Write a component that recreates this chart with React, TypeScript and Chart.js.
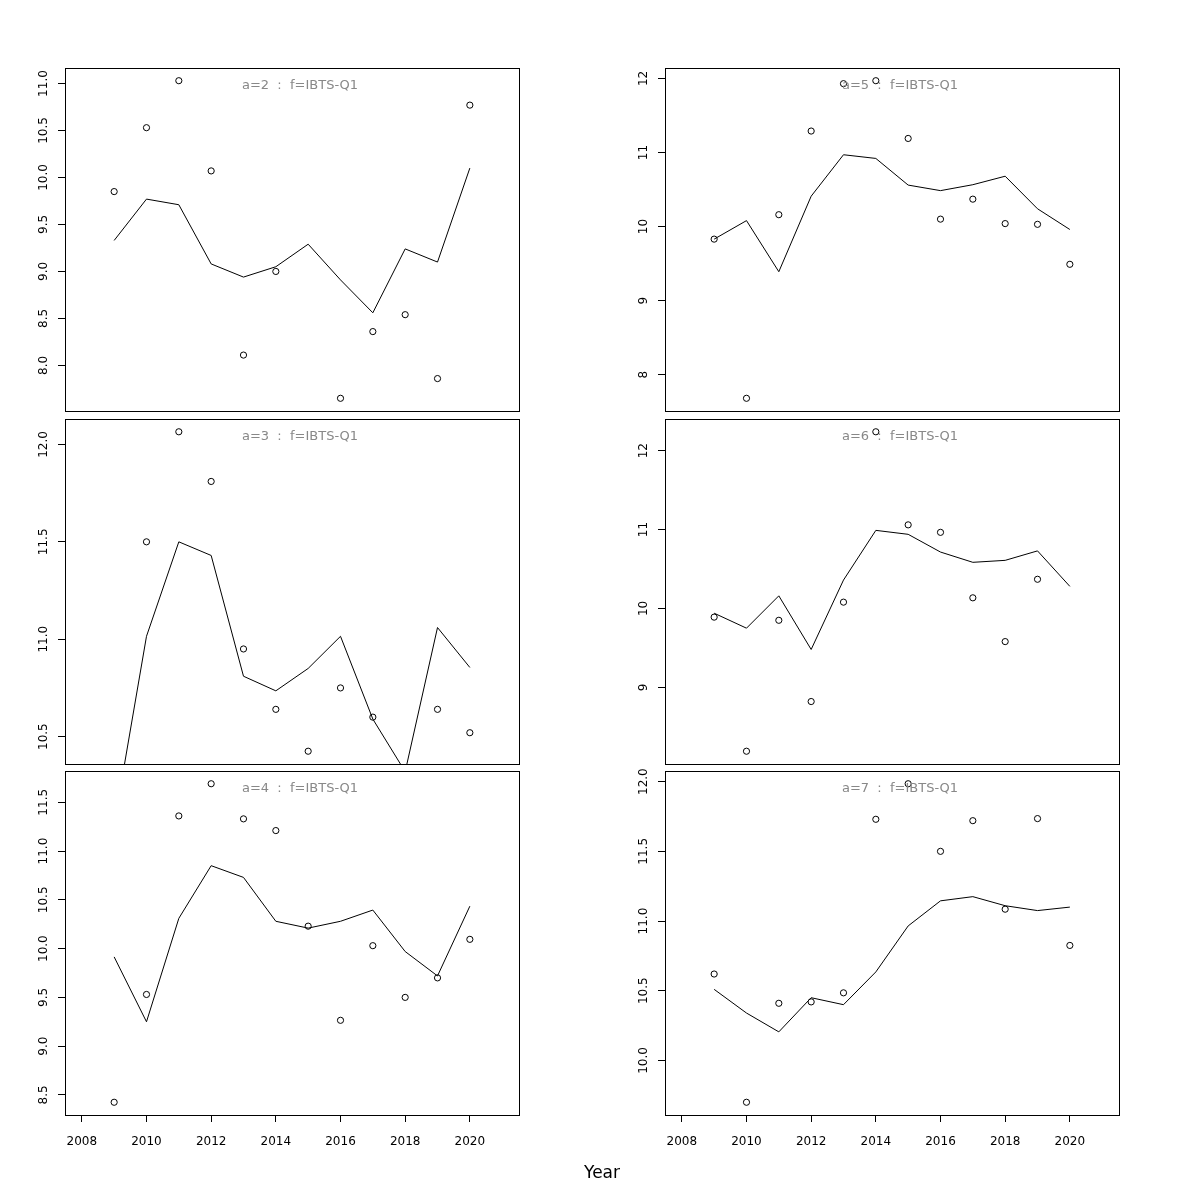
import React, { useEffect, useRef } from "react";
import { Chart, registerables } from "chart.js";

Chart.register(...registerables);

// ---------- data ----------
const years = [2009, 2010, 2011, 2012, 2013, 2014, 2015, 2016, 2017, 2018, 2019, 2020];
const xTickLabels = ["2008", "2010", "2012", "2014", "2016", "2018", "2020"];
const xLimits = [2008, 2021];

const obsA2 = [9.85, 10.53, 11.03, 10.07, 8.11, 9.0, null, 7.65, 8.36, 8.54, 7.86, 10.77];
const fitA2 = [9.33, 9.77, 9.71, 9.08, 8.94, 9.05, 9.29, 8.91, 8.56, 9.24, 9.1, 10.1];
const yTicksA2 = ["8.0", "8.5", "9.0", "9.5", "10.0", "10.5", "11.0"];

const obsA3 = [null, 11.5, 12.065, 11.81, 10.95, 10.64, 10.425, 10.75, 10.6, null, 10.64, 10.52];
const fitA3 = [10.05, 11.015, 11.5, 11.43, 10.81, 10.735, 10.85, 11.015, 10.59, 10.32, 11.06, 10.855];
const yTicksA3 = ["10.5", "11.0", "11.5", "12.0"];

const obsA4 = [8.425, 9.53, 11.36, 11.69, 11.33, 11.21, 10.23, 9.265, 10.03, 9.5, 9.7, 10.095];
const fitA4 = [9.915, 9.25, 10.31, 10.85, 10.73, 10.28, 10.21, 10.28, 10.395, 9.97, 9.72, 10.435];
const yTicksA4 = ["8.5", "9.0", "9.5", "10.0", "10.5", "11.0", "11.5"];

const obsA5 = [9.83, 7.68, 10.16, 11.29, 11.93, 11.97, 11.19, 10.1, 10.37, 10.04, 10.03, 9.49];
const fitA5 = [9.83, 10.08, 9.39, 10.41, 10.97, 10.92, 10.56, 10.485, 10.565, 10.68, 10.24, 9.96];
const yTicksA5 = ["8", "9", "10", "11", "12"];

const obsA6 = [9.89, 8.19, 9.85, 8.82, 10.08, 12.24, 11.06, 10.965, 10.135, 9.58, 10.37, null];
const fitA6 = [9.94, 9.75, 10.16, 9.48, 10.36, 10.99, 10.94, 10.715, 10.585, 10.61, 10.73, 10.28];
const yTicksA6 = ["9", "10", "11", "12"];

const obsA7 = [10.62, 9.7, 10.41, 10.42, 10.485, 11.73, 11.985, 11.5, 11.72, 11.085, 11.735, 10.825];
const fitA7 = [10.51, 10.34, 10.205, 10.45, 10.4, 10.635, 10.965, 11.145, 11.175, 11.11, 11.075, 11.1];
const yTicksA7 = ["10.0", "10.5", "11.0", "11.5", "12.0"];

const panelTitles = [
  "a=2  :  f=IBTS-Q1",
  "a=3  :  f=IBTS-Q1",
  "a=4  :  f=IBTS-Q1",
  "a=5  :  f=IBTS-Q1",
  "a=6  :  f=IBTS-Q1",
  "a=7  :  f=IBTS-Q1",
];
const xAxisTitle = "Year";

// ---------- layout / style ----------
const FONT = "'DejaVu Sans', 'Liberation Sans', sans-serif";

type Spec = {
  title: string;
  obs: (number | null)[];
  fit: number[];
  yTicks: string[];
  col: number;
  row: number;
};

const specs: Spec[] = [
  { title: panelTitles[0], obs: obsA2, fit: fitA2, yTicks: yTicksA2, col: 0, row: 0 },
  { title: panelTitles[1], obs: obsA3, fit: fitA3, yTicks: yTicksA3, col: 0, row: 1 },
  { title: panelTitles[2], obs: obsA4, fit: fitA4, yTicks: yTicksA4, col: 0, row: 2 },
  { title: panelTitles[3], obs: obsA5, fit: fitA5, yTicks: yTicksA5, col: 1, row: 0 },
  { title: panelTitles[4], obs: obsA6, fit: fitA6, yTicks: yTicksA6, col: 1, row: 1 },
  { title: panelTitles[5], obs: obsA7, fit: fitA7, yTicks: yTicksA7, col: 1, row: 2 },
];

const rowGeom = [
  { top: 0, height: 416, padTop: 68, padBottom: 4 },
  { top: 410, height: 360, padTop: 9, padBottom: 6 },
  { top: 766, height: 434, padTop: 5, padBottom: 0 },
];
const colGeom = [
  { left: 0, width: 600, axisWidth: 65, padRight: 81 },
  { left: 600, width: 600, axisWidth: 65, padRight: 81 },
];
const X_AXIS_HEIGHT = 85;

function extendRange(lo: number, hi: number): [number, number] {
  const d = (hi - lo) * 0.04;
  return [lo - d, hi + d];
}

function Panel({ spec }: { spec: Spec }) {
  const ref = useRef<HTMLCanvasElement | null>(null);
  const rg = rowGeom[spec.row];
  const cg = colGeom[spec.col];
  const isBottom = spec.row === 2;

  useEffect(() => {
    if (!ref.current) return;
    const obsVals = spec.obs.filter((v) => v !== null) as number[];
    const [ymin, ymax] = extendRange(Math.min(...obsVals), Math.max(...obsVals));
    const [xmin, xmax] = extendRange(xLimits[0], xLimits[1]);

    const fitData = years.map((x, i) => ({ x, y: spec.fit[i] }));
    const obsData = years
      .map((x, i) => ({ x, y: spec.obs[i] }))
      .filter((p) => p.y !== null);

    const deco = {
      id: "deco",
      afterDraw(chart: any) {
        const ctx = chart.ctx as CanvasRenderingContext2D;
        const ca = chart.chartArea;
        const ys = chart.scales.y;
        const xs = chart.scales.x;
        ctx.save();
        // box
        ctx.strokeStyle = "#000";
        ctx.lineWidth = 1;
        ctx.strokeRect(ca.left + 0.5, ca.top + 0.5, ca.right - ca.left, ca.bottom - ca.top);
        // y tick labels (rotated)
        ctx.fillStyle = "#000";
        ctx.font = `12px ${FONT}`;
        ctx.textAlign = "center";
        ctx.textBaseline = "alphabetic";
        for (const lab of spec.yTicks) {
          const py = ys.getPixelForValue(Number(lab));
          ctx.save();
          ctx.translate(ca.left - 18, py);
          ctx.rotate(-Math.PI / 2);
          ctx.fillText(lab, 0, 0);
          ctx.restore();
        }
        // x tick labels
        if (isBottom) {
          for (const lab of xTickLabels) {
            const px = xs.getPixelForValue(Number(lab));
            ctx.fillText(lab, px, ca.bottom + 30);
          }
        }
        // title
        ctx.fillStyle = "#888888";
        ctx.font = `13px ${FONT}`;
        ctx.fillText(spec.title, ca.left + 235, ca.top + 21);
        ctx.restore();
      },
    };

    const gridOpts = {
      drawOnChartArea: false,
      drawTicks: true,
      tickLength: 7,
      color: "#000",
      lineWidth: 1,
    };

    const chart = new Chart(ref.current, {
      type: "line",
      data: {
        datasets: [
          {
            data: fitData,
            borderColor: "#000",
            borderWidth: 1,
            pointRadius: 0,
            tension: 0,
            fill: false,
            clip: 0,
          } as any,
          {
            data: obsData,
            showLine: false,
            pointRadius: 3.1,
            pointBorderWidth: 1,
            pointBorderColor: "#000",
            pointBackgroundColor: "rgba(0,0,0,0)",
            borderColor: "#000",
            clip: 6,
          } as any,
        ],
      },
      options: {
        animation: false,
        responsive: false,
        devicePixelRatio: 1,
        events: [],
        layout: {
          padding: { left: 0, right: cg.padRight, top: rg.padTop, bottom: rg.padBottom },
        },
        plugins: {
          legend: { display: false },
          tooltip: { enabled: false },
          title: { display: false },
        },
        scales: {
          x: {
            type: "linear",
            min: xmin,
            max: xmax,
            display: isBottom,
            afterBuildTicks: (s: any) => {
              s.ticks = xTickLabels.map((l) => ({ value: Number(l) }));
            },
            afterFit: (s: any) => {
              s.height = isBottom ? X_AXIS_HEIGHT : 0;
            },
            grid: gridOpts,
            border: { display: false },
            ticks: { display: false },
          },
          y: {
            type: "linear",
            min: ymin,
            max: ymax,
            afterBuildTicks: (s: any) => {
              s.ticks = spec.yTicks.map((l) => ({ value: Number(l) }));
            },
            afterFit: (s: any) => {
              s.width = cg.axisWidth;
            },
            grid: gridOpts,
            border: { display: false },
            ticks: { display: false },
          },
        },
      } as any,
      plugins: [deco],
    });
    return () => chart.destroy();
  }, []);

  return (
    <canvas
      ref={ref}
      width={cg.width}
      height={rg.height}
      style={{
        position: "absolute",
        left: cg.left,
        top: rg.top,
        width: cg.width,
        height: rg.height,
      }}
    />
  );
}

export default function App() {
  return (
    <div
      style={{
        position: "absolute",
        left: 0,
        top: 0,
        width: 1200,
        height: 1200,
        background: "#fff",
        overflow: "hidden",
      }}
    >
      {specs.map((s, i) => (
        <Panel key={i} spec={s} />
      ))}
      <div
        style={{
          position: "absolute",
          left: 0,
          top: 1162,
          width: 1204,
          textAlign: "center",
          fontFamily: FONT,
          fontSize: 17,
          lineHeight: "20px",
          color: "#000",
        }}
      >
        {xAxisTitle}
      </div>
    </div>
  );
}
